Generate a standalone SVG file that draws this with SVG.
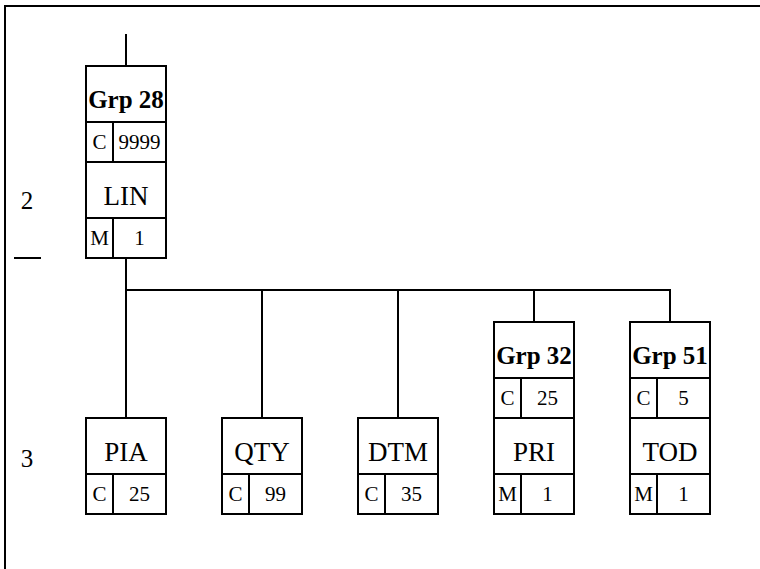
<svg xmlns="http://www.w3.org/2000/svg" width="760" height="569" viewBox="0 0 760 569">
<style>
.b{fill:#fff;stroke:#000;stroke-width:2}
.l{stroke:#000;stroke-width:2;fill:none}
.t{font-family:"Liberation Serif","Times New Roman","DejaVu Serif",serif;fill:#000;text-anchor:middle}
.n{font-size:27px}
.lv{font-size:25px}
.g{font-size:25px;font-weight:bold}
.s{font-size:21px}
</style>
<rect width="760" height="569" fill="#fff"/>
<g id="frame">
<path class="l" d="M5 569 V6 H760"/>
</g>
<g id="levels">
<text class="t lv" x="27" y="209">2</text>
<line class="l" x1="14" y1="258" x2="41" y2="258"/>
<text class="t lv" x="27" y="467">3</text>
</g>
<g id="connectors">
<path class="l" d="M126 34 V66"/>
<path class="l" d="M126 258 V418"/>
<path class="l" d="M126 290 H670 V322"/>
<path class="l" d="M262 290 V418"/>
<path class="l" d="M398 290 V418"/>
<path class="l" d="M534 290 V322"/>
</g>
<g id="grp28">
<rect class="b" x="86" y="66" width="80" height="96"/>
<path class="l" d="M86 122 H166 M113 122 V162"/>
<text class="t g" x="126" y="108">Grp 28</text>
<text class="t s" x="99.5" y="149">C</text>
<text class="t s" x="139.5" y="149">9999</text>
</g>
<g id="lin">
<rect class="b" x="86" y="162" width="80" height="96"/>
<path class="l" d="M86 218 H166 M113 218 V258"/>
<text class="t n" x="126" y="205">LIN</text>
<text class="t s" x="99.5" y="245">M</text>
<text class="t s" x="139.5" y="245">1</text>
</g>
<g id="pia">
<rect class="b" x="86" y="418" width="80" height="96"/>
<path class="l" d="M86 474 H166 M113 474 V514"/>
<text class="t n" x="126" y="461">PIA</text>
<text class="t s" x="99.5" y="501">C</text>
<text class="t s" x="139.5" y="501">25</text>
</g>
<g id="qty">
<rect class="b" x="222" y="418" width="80" height="96"/>
<path class="l" d="M222 474 H302 M249 474 V514"/>
<text class="t n" x="262" y="461">QTY</text>
<text class="t s" x="235.5" y="501">C</text>
<text class="t s" x="275.5" y="501">99</text>
</g>
<g id="dtm">
<rect class="b" x="358" y="418" width="80" height="96"/>
<path class="l" d="M358 474 H438 M385 474 V514"/>
<text class="t n" x="398" y="461">DTM</text>
<text class="t s" x="371.5" y="501">C</text>
<text class="t s" x="411.5" y="501">35</text>
</g>
<g id="grp32">
<rect class="b" x="494" y="322" width="80" height="96"/>
<path class="l" d="M494 378 H574 M521 378 V418"/>
<text class="t g" x="534" y="364">Grp 32</text>
<text class="t s" x="507.5" y="405">C</text>
<text class="t s" x="547.5" y="405">25</text>
</g>
<g id="pri">
<rect class="b" x="494" y="418" width="80" height="96"/>
<path class="l" d="M494 474 H574 M521 474 V514"/>
<text class="t n" x="534" y="461">PRI</text>
<text class="t s" x="507.5" y="501">M</text>
<text class="t s" x="547.5" y="501">1</text>
</g>
<g id="grp51">
<rect class="b" x="630" y="322" width="80" height="96"/>
<path class="l" d="M630 378 H710 M657 378 V418"/>
<text class="t g" x="670" y="364">Grp 51</text>
<text class="t s" x="643.5" y="405">C</text>
<text class="t s" x="683.5" y="405">5</text>
</g>
<g id="tod">
<rect class="b" x="630" y="418" width="80" height="96"/>
<path class="l" d="M630 474 H710 M657 474 V514"/>
<text class="t n" x="670" y="461">TOD</text>
<text class="t s" x="643.5" y="501">M</text>
<text class="t s" x="683.5" y="501">1</text>
</g>
</svg>
